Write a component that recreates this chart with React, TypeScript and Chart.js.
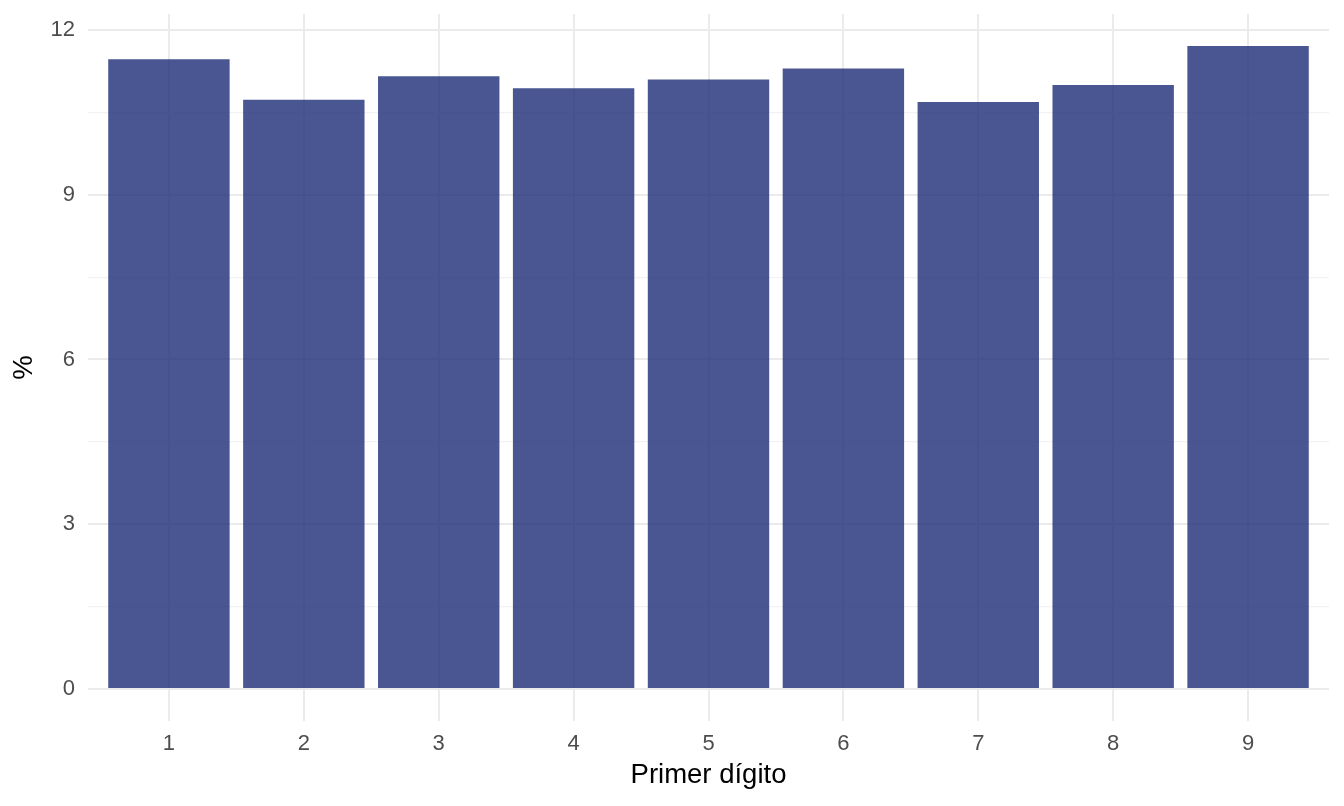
import { useEffect, useRef } from 'react';
import Chart from 'chart.js/auto';

const digits = ['1', '2', '3', '4', '5', '6', '7', '8', '9'];
const percents = [11.47, 10.73, 11.16, 10.94, 11.1, 11.3, 10.69, 11.0, 11.71];
const yTicks = [0, 1.5, 3, 4.5, 6, 7.5, 9, 10.5, 12];
const yLabels = [0, 3, 6, 9, 12];

const font = "'Liberation Sans', Arial, Helvetica, sans-serif";

export default function App() {
  const canvasRef = useRef<HTMLCanvasElement | null>(null);

  useEffect(() => {
    document.body.style.margin = '0';
    if (!canvasRef.current) return;

    const isMajor = (v: number) => yLabels.includes(v);

    const chart = new Chart(canvasRef.current, {
      type: 'bar',
      data: {
        datasets: [
          {
            label: '%',
            data: percents.map((p, i) => ({ x: i + 1, y: p })),
            backgroundColor: 'rgba(27,44,118,0.8)',
            borderWidth: 0,
            categoryPercentage: 1,
            barPercentage: 0.9
          }
        ]
      },
      options: {
        animation: false,
        responsive: true,
        maintainAspectRatio: false,
        layout: { padding: { top: 14, right: 15, left: 0, bottom: 0 } },
        plugins: { legend: { display: false }, tooltip: { enabled: false } },
        scales: {
          x: {
            type: 'linear',
            min: 0.4,
            max: 9.6,
            offset: false,
            afterBuildTicks: (scale: any) => {
              scale.ticks = digits.map((_, i) => ({ value: i + 1 }));
            },
            afterFit: (scale: any) => {
              scale.height = 85;
              scale.paddingLeft = 0;
              scale.paddingRight = 0;
            },
            grid: { offset: false, color: '#ebebeb', lineWidth: 2, drawTicks: false },
            border: { display: false },
            ticks: {
              padding: 10,
              color: '#4d4d4d',
              font: { family: font, size: 22 },
              autoSkip: false,
              maxRotation: 0,
              callback: (v: any) => digits[Number(v) - 1] ?? ''
            },
            title: {
              display: true,
              text: 'Primer dígito',
              color: '#000',
              font: { family: font, size: 27.5 },
              padding: { top: 0, bottom: 14 }
            }
          },
          y: {
            min: -0.585,
            max: 12.293,
            afterBuildTicks: (scale: any) => {
              scale.ticks = yTicks.map((v) => ({ value: v }));
            },
            afterFit: (scale: any) => {
              scale.width = 88;
              scale.paddingTop = 0;
              scale.paddingBottom = 0;
            },
            grid: {
              drawTicks: false,
              color: (ctx: any) => (isMajor(ctx.tick?.value) ? '#ebebeb' : '#f2f2f2'),
              lineWidth: (ctx: any) => (isMajor(ctx.tick?.value) ? 2 : 1.2)
            },
            border: { display: false },
            ticks: {
              padding: 13,
              color: '#4d4d4d',
              font: { family: font, size: 22 },
              autoSkip: false,
              callback: (v: any) => (isMajor(Number(v)) ? String(v) : '')
            },
            title: {
              display: true,
              text: '%',
              color: '#000',
              font: { family: font, size: 27.5 },
              padding: { top: 8, bottom: 0 }
            }
          }
        }
      }
    });

    return () => {
      chart.destroy();
    };
  }, []);

  return (
    <div style={{ position: 'absolute', left: 0, top: 0, width: 1344, height: 806, background: '#fff' }}>
      <canvas ref={canvasRef} />
    </div>
  );
}
